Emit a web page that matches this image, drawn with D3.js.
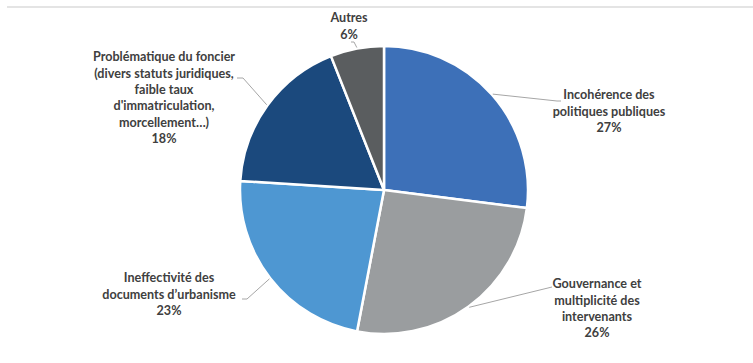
<!DOCTYPE html>
<html><head><meta charset="utf-8">
<script src="https://cdn.jsdelivr.net/npm/d3@7/dist/d3.min.js"></script>
<style>body{margin:0;background:#fff;} svg{display:block;}</style>
</head><body>
<svg id="chart" width="753" height="363"></svg>
<script>
// Data
const categories = [
  "Incohérence des politiques publiques",
  "Gouvernance et multiplicité des intervenants",
  "Ineffectivité des documents d’urbanisme",
  "Problématique du foncier (divers statuts juridiques, faible taux d'immatriculation, morcellement…)",
  "Autres"
];
const values = [27, 26, 23, 18, 6];
const labelLines = [
  ["Incohérence des", "politiques publiques"],
  ["Gouvernance et", "multiplicité des", "intervenants"],
  ["Ineffectivité des", "documents d’urbanisme"],
  ["Problématique du foncier", "(divers statuts juridiques,", "faible taux", "d'immatriculation,", "morcellement…)"],
  ["Autres"]
];
const colors = ["#3D70B8", "#9A9D9F", "#4E97D2", "#1B497D", "#5A5D5F"];

// Layout (label block centre and leader end, relative to pie centre)
const layout = [
  {cx: 225, y0: -95, leader: [[173, -89], [177, -89]]},
  {cx: 213, y0: 94, leader: [[168, 97]]},
  {cx: -215, y0: 88, leader: [[-137, 109], [-142, 109]]},
  {cx: -220, y0: -133, leader: [[-141, -112], [-147, -112]]},
  {cx: -35, y0: -172, leader: [[-30, -148], [-33, -148]]}
];

const svg = d3.select("#chart");
const W = 753, H = 363;
const cx = 384, cy = 190, R = 144;
const lineH = 16.3;

svg.append("line").attr("x1", 7).attr("x2", W).attr("y1", 7).attr("y2", 7)
  .attr("stroke", "#e4e4e4").attr("stroke-width", 2);

const pie = d3.pie().sort(null).value(d => d)(values);
const arc = d3.arc().innerRadius(0).outerRadius(R);
const g = svg.append("g").attr("transform", `translate(${cx},${cy})`);

g.selectAll("path.slice").data(pie).join("path")
  .attr("class", "slice")
  .attr("d", arc)
  .attr("fill", (d, i) => colors[i])
  .attr("stroke", "#fff").attr("stroke-width", 2.5).attr("stroke-linejoin", "round");

// leader lines
pie.forEach((d, i) => {
  const a = (d.startAngle + d.endAngle) / 2;
  const p0 = [Math.sin(a) * (R + 1), -Math.cos(a) * (R + 1)];
  const pts = [p0].concat(layout[i].leader);
  g.append("path")
    .attr("d", d3.line()(pts))
    .attr("fill", "none").attr("stroke", "#a6a6a6").attr("stroke-width", 1);
});

// labels
pie.forEach((d, i) => {
  const L = layout[i];
  const lines = labelLines[i].concat([values[i] + "%"]);
  const t = g.append("text")
    .attr("text-anchor", "middle")
    .attr("font-family", "Lato, 'Open Sans', sans-serif")
    .attr("font-weight", "bold")
    .attr("font-size", 12.6)
    .attr("fill", "#404040");
  lines.forEach((s, k) => {
    t.append("tspan").attr("x", L.cx).attr("y", L.y0 + k * lineH)
      .attr("dy", "0.35em").text(s);
  });
});
</script>
</body></html>
